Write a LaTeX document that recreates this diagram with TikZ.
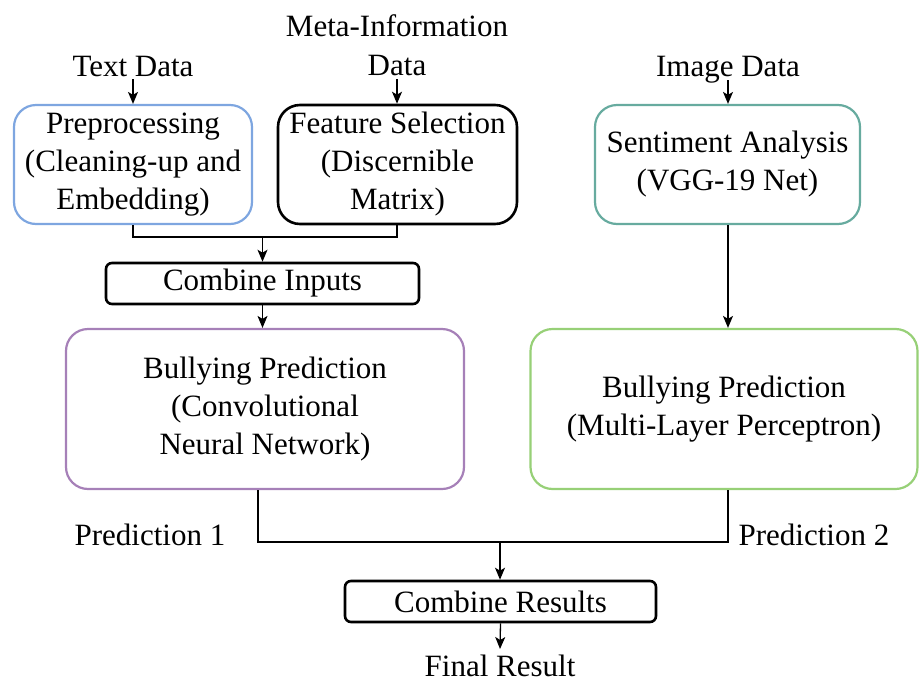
\documentclass[tikz,border=0pt]{standalone}
\usepackage{fontspec}
\setmainfont{Liberation Serif}
\newfontfamily\diagfont{Liberation Serif}
\usetikzlibrary{arrows.meta}
\definecolor{boxblue}{HTML}{7EA6E0}
\definecolor{boxteal}{HTML}{67AB9F}
\definecolor{boxpurple}{HTML}{A680B8}
\definecolor{boxgreen}{HTML}{97D077}
\tikzset{
  every node/.style={font=\diagfont\fontsize{31}{38}\selectfont},
  bigbox/.style={draw, line width=2.2pt, rounded corners=22pt, align=center,
    inner sep=0pt, fill=white},
  smallbox/.style={draw, line width=2.6pt, rounded corners=6pt, align=center,
    inner sep=0pt, fill=white},
  label/.style={inner sep=0pt, anchor=base, align=center},
  link/.style={line width=1.3pt, black},
  arrow/.style={link, -{Stealth[length=12pt, width=10pt, inset=3pt]}}
}
\begin{document}
\begin{tikzpicture}[x=1pt, y=-1pt]
\useasboundingbox (0,0) rectangle (919,683);

% input labels
\node[label] (textdata) at (133,76) {Text Data};
\node[inner sep=0pt, anchor=south, align=center] (metadata) at (397,76) {Meta-Information\\[1pt]Data};
\node[label] (imagedata) at (728,76) {Image Data};

% processing boxes
\node[bigbox, draw=boxblue, minimum width=238pt, minimum height=119pt] (pre) at (133,164.5)
  {Preprocessing\\(Cleaning-up and\\Embedding)};
\node[bigbox, draw=black, line width=2.6pt, minimum width=239pt, minimum height=119pt] (feat) at (397.5,164.5)
  {Feature Selection\\(Discernible\\Matrix)};
\node[bigbox, draw=boxteal, minimum width=265pt, minimum height=119pt] (sent) at (727.5,164.5)
  {Sentiment Analysis\\(VGG-19 Net)};
\node[smallbox, minimum width=313pt, minimum height=41pt] (ci) at (262.5,283.5) {Combine Inputs};
\node[bigbox, draw=boxpurple, minimum width=398pt, minimum height=160pt] (cnn) at (265,409)
  {Bullying Prediction\\(Convolutional\\Neural Network)};
\node[bigbox, draw=boxgreen, minimum width=387pt, minimum height=160pt] (mlp) at (724,409)
  {Bullying Prediction\\(Multi-Layer Perceptron)};
\node[smallbox, minimum width=311pt, minimum height=41pt] (cr) at (500.5,601.5) {Combine Results};

% output labels
\node[label] (p1) at (150,545) {Prediction 1};
\node[label] (p2) at (814,545) {Prediction 2};
\node[label] (final) at (500,676) {Final Result};

% connector end points
\coordinate (t1) at (133,79);
\coordinate (t2) at (397,79);
\coordinate (t3) at (728,80);
\coordinate (j1) at (262.5,237);
\coordinate (j2) at (500,542);
\coordinate (fe) at (500,649);

% inputs into the first row
\draw[arrow] (t1) -- (t1 |- pre.north);
\draw[arrow] (t2) -- (t2 |- feat.north);
\draw[arrow] (t3) -- (t3 |- sent.north);

% text and meta-information merge
\draw[link] (pre.south) |- (j1) -| (feat.south -| t2);
\draw[arrow] (j1) -- (j1 |- ci.north);
\draw[arrow] (ci.south) -- (ci.south |- cnn.north);

% image branch
\draw[arrow] (t3 |- sent.south) -- (t3 |- mlp.north);

% predictions merge
\draw[link] ([xshift=-7pt]cnn.south) |- (j2) -| (t3 |- mlp.south);
\draw[arrow] (j2) -- (j2 |- cr.north);
\draw[arrow] (cr.south) -- (fe);
\end{tikzpicture}
\end{document}
